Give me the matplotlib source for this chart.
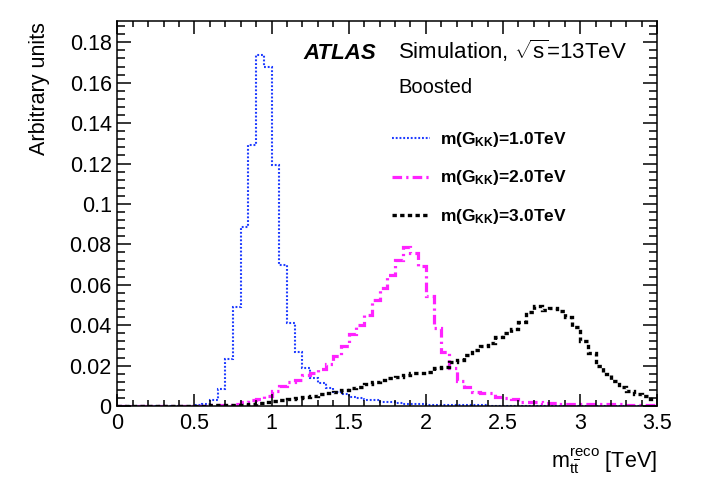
import numpy as np
import matplotlib
matplotlib.use("Agg")
import matplotlib.pyplot as plt
from matplotlib.lines import Line2D
from matplotlib.ticker import MultipleLocator

plt.rcParams['font.family'] = ['Liberation Sans', 'DejaVu Sans']
plt.rcParams['mathtext.fontset'] = 'custom'
plt.rcParams['mathtext.rm'] = 'Liberation Sans'
plt.rcParams['mathtext.it'] = 'Liberation Sans:italic'
plt.rcParams['mathtext.bf'] = 'Liberation Sans:bold'

# 70 bins of 0.05 TeV from 0 to 3.5 TeV
bin_width = 0.05
n_bins = 70

# m(G_KK) = 1.0 TeV
gkk_1000 = [
    0, 0, 0, 0, 0, 0, 0, 0, 0, 0,
    0.0003, 0.0008, 0.0030, 0.0083, 0.0231, 0.0492, 0.0888, 0.1292, 0.1738, 0.1680,
    0.1193, 0.0698, 0.0410, 0.0269, 0.0187, 0.0137, 0.0112, 0.0088, 0.0071, 0.0058,
    0.0043, 0.0038, 0.0030, 0.0028, 0.0022, 0.0019, 0.0014, 0.0012, 0.0009, 0.0008,
    0.0006, 0.0005, 0.0005, 0.0004, 0.0004, 0.0003, 0.0003, 0.0003, 0.0002, 0.0002,
    0.0002, 0.0002, 0.0002, 0.0002, 0.0001, 0.0001, 0.0001, 0.0001, 0.0001, 0.0001,
    0.0001, 0.0001, 0.0001, 0.0001, 0.0001, 0.0001, 0.0001, 0.0001, 0.0001, 0.0001,
]

# m(G_KK) = 2.0 TeV
gkk_2000 = [
    0.0001, 0.0001, 0.0001, 0.0001, 0.0001, 0.0001, 0.0001, 0.0001, 0.0001, 0.0001,
    0.0002, 0.0002, 0.0003, 0.0004, 0.0005, 0.0009, 0.0021, 0.0030, 0.0036, 0.0051,
    0.0076, 0.0099, 0.0118, 0.0129, 0.0152, 0.0165, 0.0185, 0.0210, 0.0245, 0.0295,
    0.0355, 0.0401, 0.0450, 0.0525, 0.0583, 0.0649, 0.0723, 0.0789, 0.0756, 0.0695,
    0.0546, 0.0385, 0.0269, 0.0187, 0.0125, 0.0096, 0.0071, 0.0066, 0.0062, 0.0045,
    0.0040, 0.0036, 0.0021, 0.0020, 0.0018, 0.0017, 0.0013, 0.0012, 0.0012, 0.0011,
    0.0010, 0.0009, 0.0009, 0.0008, 0.0008, 0.0008, 0.0007, 0.0007, 0.0007, 0.0006,
]

# m(G_KK) = 3.0 TeV
gkk_3000 = [
    0.0001, 0.0001, 0.0001, 0.0001, 0.0001, 0.0001, 0.0001, 0.0001, 0.0001, 0.0001,
    0.0002, 0.0002, 0.0003, 0.0003, 0.0004, 0.0005, 0.0007, 0.0010, 0.0013, 0.0021,
    0.0026, 0.0030, 0.0035, 0.0041, 0.0046, 0.0051, 0.0058, 0.0063, 0.0070, 0.0079,
    0.0089, 0.0096, 0.0107, 0.0120, 0.0129, 0.0137, 0.0145, 0.0153, 0.0165, 0.0165,
    0.0170, 0.0187, 0.0195, 0.0219, 0.0228, 0.0252, 0.0277, 0.0295, 0.0310, 0.0343,
    0.0360, 0.0381, 0.0414, 0.0464, 0.0495, 0.0475, 0.0487, 0.0470, 0.0439, 0.0390,
    0.0322, 0.0261, 0.0200, 0.0157, 0.0124, 0.0096, 0.0074, 0.0061, 0.0051, 0.0035,
]

labels = [r"m(G$_{\mathbf{KK}}$)=1.0TeV",
          r"m(G$_{\mathbf{KK}}$)=2.0TeV",
          r"m(G$_{\mathbf{KK}}$)=3.0TeV"]
colors = ["#1f3cff", "#ff22ff", "black"]
styles = [(0, (0.9, 0.9)), (0, (3.0, 1.3, 0.7, 1.3)), (0, (1.3, 1.0))]
widths = [1.5, 2.3, 2.4]

edges = np.arange(n_bins + 1) * bin_width

W, H = 704, 486
fig = plt.figure(figsize=(W / 100, H / 100), dpi=100)
ax = fig.add_axes([117.3 / W, 1 - 406 / H, (657.3 - 117.3) / W, (406 - 20.7) / H])

for vals, c, ls, lw in zip([gkk_1000, gkk_2000, gkk_3000], colors, styles, widths):
    ax.stairs(vals, edges, color=c, linestyle=ls, linewidth=lw, baseline=None)

ax.set_xlim(0, 3.5)
ax.set_ylim(0, 0.1907)
ax.xaxis.set_minor_locator(MultipleLocator(0.1))
ax.yaxis.set_minor_locator(MultipleLocator(0.004))
ax.set_xticks([0, 0.5, 1, 1.5, 2, 2.5, 3, 3.5])
ax.set_xticklabels(["0", "0.5", "1", "1.5", "2", "2.5", "3", "3.5"])
ax.set_yticks([0, 0.02, 0.04, 0.06, 0.08, 0.1, 0.12, 0.14, 0.16, 0.18])
ax.set_yticklabels(["0", "0.02", "0.04", "0.06", "0.08", "0.1", "0.12", "0.14", "0.16", "0.18"])
ax.tick_params(axis='both', which='both', direction='in', top=True, right=True,
               labelsize=15.5, width=1.1)
ax.tick_params(axis='x', which='major', length=9, pad=5)
ax.tick_params(axis='x', which='minor', length=4.5)
ax.tick_params(axis='y', which='major', length=10, pad=4)
ax.tick_params(axis='y', which='minor', length=5.5)
for s in ax.spines.values():
    s.set_linewidth(1.1)


def fx(px):
    return px / W


def fy(py):
    return 1 - py / H


fig.text(fx(657), fy(468),
         r"$\mathrm{m}_{\mathrm{t}\overline{\mathrm{t}}}^{\mathrm{reco}}$ [TeV]",
         ha='right', va='baseline', fontsize=15.5)
fig.text(fx(39), fy(22), "Arbitrary units", rotation=90, ha='center', va='top', fontsize=15.5)

fig.text(fx(303), fy(59.3), "ATLAS", fontsize=16, fontweight='bold', fontstyle='italic',
         va='baseline')
fig.text(fx(398), fy(59.3), r"Simulation, $\sqrt{\mathrm{s}}$=13TeV", fontsize=16, va='baseline')
fig.text(fx(398), fy(93.3), "Boosted", fontsize=14.5, va='baseline')

legend_y = [138.3, 176.7, 215.0]
for lab, c, ls, lw, yy in zip(labels, colors, styles, widths, legend_y):
    fig.add_artist(Line2D([fx(392), fx(430)], [fy(yy), fy(yy)], color=c, linestyle=ls,
                          linewidth=lw))
    fig.text(fx(440.5), fy(yy + 5.5), lab, fontsize=12.5, fontweight='bold', va='baseline')

fig.savefig("out.png", dpi=100)
